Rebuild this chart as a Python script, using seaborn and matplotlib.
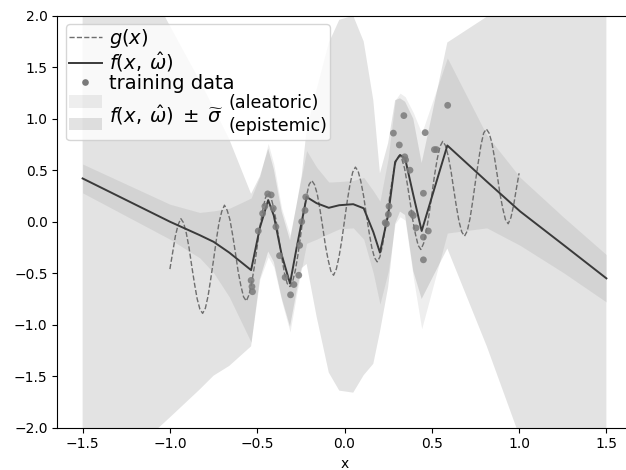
"""Heteroscedastic regression plot: mean, aleatoric and epistemic bands."""

import matplotlib
matplotlib.use("Agg")
import matplotlib.pyplot as plt
import numpy as np
import pandas as pd
import seaborn as sns
from matplotlib.lines import Line2D
from matplotlib.offsetbox import DrawingArea
from matplotlib.patches import Rectangle

g_x = np.linspace(-1.0, 1.0, 129)
g_y = [-0.46, -0.30, -0.14, -0.03, 0.03, -0.01, -0.11, -0.25,
       -0.43, -0.60, -0.75, -0.85, -0.89, -0.84, -0.72, -0.55,
       -0.37, -0.18, -0.01, 0.10, 0.16, 0.11, 0.02, -0.13,
       -0.30, -0.48, -0.62, -0.73, -0.77, -0.71, -0.59, -0.43,
       -0.24, -0.05, 0.11, 0.23, 0.28, 0.24, 0.14, 0.00,
       -0.18, -0.35, -0.50, -0.60, -0.63, -0.58, -0.47, -0.31,
       -0.12, 0.08, 0.24, 0.36, 0.40, 0.36, 0.27, 0.12,
       -0.05, -0.23, -0.37, -0.48, -0.52, -0.46, -0.34, -0.18,
       0.01, 0.20, 0.36, 0.48, 0.53, 0.49, 0.39, 0.25,
       0.07, -0.10, -0.25, -0.35, -0.39, -0.34, -0.22, -0.05,
       0.14, 0.32, 0.49, 0.60, 0.64, 0.61, 0.52, 0.37,
       0.20, 0.02, -0.12, -0.23, -0.27, -0.21, -0.09, 0.07,
       0.26, 0.45, 0.61, 0.73, 0.78, 0.74, 0.64, 0.50,
       0.32, 0.15, 0.00, -0.10, -0.14, -0.09, 0.03, 0.20,
       0.39, 0.57, 0.74, 0.86, 0.90, 0.86, 0.77, 0.62,
       0.45, 0.27, 0.13, 0.02, -0.02, 0.04, 0.16, 0.32,
       0.47]

# model prediction f(x, w) and the two half-widths
f_x = [-1.5, -1.0, -0.83, -0.75, -0.66, -0.535, -0.485, -0.437, -0.405, -0.36,
       -0.312, -0.275, -0.245, -0.217, -0.16, -0.09, -0.03, 0.05, 0.11, 0.165,
       0.203, 0.25, 0.29, 0.318, 0.347, 0.394, 0.442, 0.589, 0.815, 1.006,
       1.254, 1.5]
f_y = [0.42, 0.0, -0.13, -0.195, -0.30, -0.47, -0.06, 0.21, 0.06, -0.32,
       -0.60, -0.26, 0.0, 0.24, 0.18, 0.135, 0.16, 0.17, 0.13, -0.10,
       -0.30, 0.065, 0.58, 0.648, 0.615, 0.26, -0.09, 0.74, 0.39, 0.10,
       -0.225, -0.55]
sigma_epi = [3.1, 1.9, 1.5, 1.3, 1.1, 0.74, 0.5, 0.5, 0.45, 0.42,
             0.42, 0.42, 0.45, 0.65, 1.1, 1.6, 1.8, 1.83, 1.62, 1.28,
             0.77, 0.7, 0.6, 0.55, 0.55, 0.74, 0.66, 1.0, 1.6, 2.2,
             2.8, 3.4]
sigma_ale = [0.14, 0.17, 0.22, 0.30, 0.43, 0.70, 0.5, 0.55, 0.5, 0.45,
             0.47, 0.45, 0.45, 0.45, 0.35, 0.25, 0.23, 0.23, 0.3, 0.4,
             0.5, 0.55, 0.6, 0.6, 0.6, 0.8, 0.95, 0.85, 0.45, 0.33,
             0.27, 0.23]

# training samples
train_x = [-0.535, -0.530, -0.527, -0.494, -0.469, -0.456, -0.440, -0.420,
           -0.408, -0.393, -0.372, -0.340, -0.309, -0.290, -0.262, -0.257,
           -0.245, -0.226, -0.222,
           0.233, 0.240, 0.251, 0.255, 0.280, 0.314, 0.340, 0.345, 0.350,
           0.375, 0.384, 0.394, 0.410, 0.452, 0.462, 0.452, 0.452, 0.480,
           0.515, 0.527, 0.591]
train_y = [-0.57, -0.63, -0.68, -0.09, 0.08, 0.15, 0.27, 0.26,
           0.13, -0.05, -0.33, -0.54, -0.71, -0.61, -0.52, -0.23,
           0.0, 0.11, 0.24,
           -0.01, -0.02, 0.07, 0.15, 0.86, 0.745, 1.03, 0.63, 0.60,
           0.50, 0.08, 0.06, -0.06, 0.276, 0.865, -0.15, -0.37, -0.09,
           0.70, 0.70, 1.13]

ALE_ALPHA = 0.065
EPI_ALPHA = 0.11
LEGEND_FS = 14
STACK_FS = 12.6
TEXT_PAD = 0.4
BAND_LABEL = r"$f(x,\:\hat{\omega})\;\pm\;\widetilde{\sigma}$"


def main():
    fig = plt.figure(figsize=(6.26, 4.70), dpi=100)
    # right spine falls just outside the saved picture, as in the original
    ax = fig.add_axes([57.3 / 626, 42.3 / 470, 574.4 / 626, 412.0 / 470])

    pred = pd.DataFrame({"x": f_x, "f": f_y, "epi": sigma_epi, "ale": sigma_ale})

    ax.fill_between(pred["x"], pred["f"] - pred["ale"], pred["f"] + pred["ale"],
                    color="k", alpha=ALE_ALPHA, lw=0)
    ax.fill_between(pred["x"], pred["f"] - pred["epi"], pred["f"] + pred["epi"],
                    color="k", alpha=EPI_ALPHA, lw=0)

    sns.lineplot(x=g_x, y=g_y, ax=ax, color="#6e6e6e", linestyle="--", lw=1.0)
    sns.lineplot(data=pred, x="x", y="f", ax=ax, color="#3a3a3a", lw=1.4,
                 estimator=None, sort=False)
    sns.scatterplot(x=train_x, y=train_y, ax=ax, color="#7a7a7a", s=24,
                    alpha=0.85, edgecolor="none", zorder=3)

    ax.set_xlim(-1.645, 1.645)
    ax.set_ylim(-2.0, 2.0)
    ax.set_xlabel("x")
    ax.set_ylabel("")

    handles = [
        Line2D([], [], color="#6e6e6e", linestyle="--", lw=1.0),
        Line2D([], [], color="#3a3a3a", lw=1.4),
        Line2D([], [], color="#7a7a7a", marker="o", linestyle="none",
               markersize=4.8, markeredgecolor="none"),
        Rectangle((0, 0), 1, 1, facecolor=(0, 0, 0, ALE_ALPHA), edgecolor="none"),
        Rectangle((0, 0), 1, 1, facecolor=(0, 0, 0, EPI_ALPHA), edgecolor="none"),
    ]
    labels = [r"$g(x)$", r"$f(x,\:\hat{\omega})$", "training data",
              "(aleatoric)", "(epistemic)"]
    leg = ax.legend(handles, labels, loc="upper left", fontsize=LEGEND_FS,
                    handlelength=1.7, handleheight=0.6, handletextpad=TEXT_PAD,
                    labelspacing=0.0, borderpad=0.15, borderaxespad=0.43)
    texts = leg.get_texts()
    for t in texts[3:]:
        t.set_fontsize(STACK_FS)

    # the two band rows share one label, so push their words to the right
    # (the spacer also gives those rows the same height as the others)
    renderer = fig.canvas.get_renderer()
    probe = fig.text(0, 0, BAND_LABEL, fontsize=LEGEND_FS)
    band_w = probe.get_window_extent(renderer).width
    probe.remove()
    px2pt = 72 / fig.dpi
    sep_px = TEXT_PAD * LEGEND_FS / px2pt
    gap_pt = (band_w + 5 - sep_px) * px2pt
    rows = leg._legend_handle_box.get_children()[0].get_children()
    for row in rows[3:]:
        spacer = DrawingArea(gap_pt, 22.3 * px2pt, 0, 6.8 * px2pt)
        spacer.set_figure(fig)
        row.get_children().insert(1, spacer)

    fig.canvas.draw()
    b0 = texts[2].get_window_extent(renderer)
    b4 = texts[3].get_window_extent(renderer)
    b5 = texts[4].get_window_extent(renderer)
    yc = (b4.y0 + b4.y1 + b5.y0 + b5.y1) / 4
    xf, yf = fig.transFigure.inverted().transform((b0.x0, yc))
    fig.text(xf, yf, BAND_LABEL, fontsize=LEGEND_FS, ha="left", va="center",
             zorder=10)

    fig.savefig("out.png", dpi=100)
    plt.close(fig)


if __name__ == "__main__":
    main()
